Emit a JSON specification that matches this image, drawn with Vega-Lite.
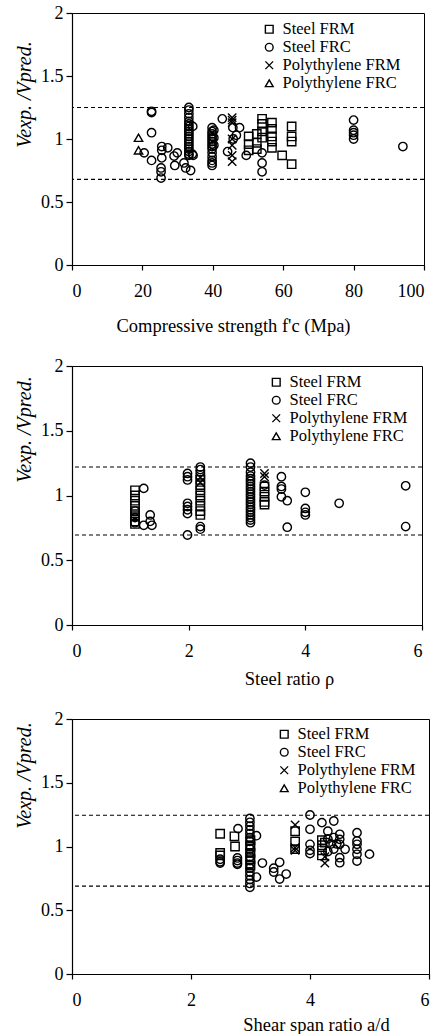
{
  "$schema": "https://vega.github.io/schema/vega-lite/v6.json",
  "background": "white",
  "padding": {"left": 14, "top": 3, "right": 5, "bottom": 0},
  "spacing": 21,
  "config": {
    "font": "Liberation Serif",
    "view": {"stroke": "black", "strokeWidth": 1},
    "axis": {
      "grid": false, "domainColor": "black", "tickColor": "black", "labelColor": "black", "titleColor": "black",
      "labelFont": "Liberation Serif", "titleFont": "Liberation Serif", "labelFontSize": 18, "titleFontSize": 18.5,
      "titleFontWeight": "normal", "domainWidth": 1.2, "tickWidth": 1.2
    },
    "axisX": {"tickSize": 5, "labelPadding": 12, "titleBaseline": "alphabetic"},
    "axisY": {"tickSize": 6, "labelPadding": 3, "titleFontStyle": "italic", "titleFontSize": 20, "titlePadding": 6},
    "legend": {
      "orient": "none", "labelFont": "Liberation Serif", "labelFontSize": 16.5, "labelColor": "black",
      "symbolSize": 60, "symbolStrokeColor": "black", "symbolStrokeWidth": 1.4, "symbolFillColor": "transparent",
      "labelOffset": 5, "rowPadding": 1, "padding": 0, "title": null
    }
  },
  "datasets": {
    "fc": [
      {"x":18.9,"y":1.01,"t":"PC"},{"x":18.9,"y":0.91,"t":"PC"},
      {"x":20.5,"y":0.89,"t":"SC"},{"x":22.6,"y":1.22,"t":"SC"},{"x":22.6,"y":1.21,"t":"SC"},{"x":22.6,"y":1.05,"t":"SC"},{"x":22.6,"y":0.83,"t":"SC"},
      {"x":25.5,"y":0.94,"t":"SC"},{"x":25.5,"y":0.91,"t":"SC"},{"x":25.5,"y":0.85,"t":"SC"},{"x":25.3,"y":0.77,"t":"SC"},{"x":25.3,"y":0.74,"t":"SC"},{"x":25.3,"y":0.69,"t":"SC"},
      {"x":27.2,"y":0.93,"t":"SC"},{"x":29,"y":0.865,"t":"SC"},{"x":29.2,"y":0.79,"t":"SC"},{"x":29.9,"y":0.89,"t":"SC"},
      {"x":31.8,"y":0.81,"t":"SC"},{"x":32.3,"y":0.77,"t":"SC"},{"x":33.7,"y":0.75,"t":"SC"},
      {"x":33.2,"y":1.25,"t":"SC"},{"x":33.2,"y":1.23,"t":"SC"},{"x":33.2,"y":1.2,"t":"SC"},{"x":33.2,"y":1.17,"t":"SC"},{"x":33.2,"y":1.14,"t":"SC"},{"x":33.2,"y":1.12,"t":"SC"},{"x":33.2,"y":1.1,"t":"SC"},{"x":33.2,"y":1.08,"t":"SC"},{"x":33.2,"y":1.06,"t":"SC"},{"x":33.2,"y":1.04,"t":"SC"},{"x":33.2,"y":1.02,"t":"SC"},{"x":33.2,"y":1.0,"t":"SC"},{"x":33.2,"y":0.98,"t":"SC"},{"x":33.2,"y":0.96,"t":"SC"},{"x":33.2,"y":0.94,"t":"SC"},{"x":33.2,"y":0.92,"t":"SC"},{"x":33.2,"y":0.9,"t":"SC"},{"x":33.2,"y":0.88,"t":"SC"},{"x":33.2,"y":0.87,"t":"SC"},
      {"x":34.3,"y":1.1,"t":"SC"},{"x":34.2,"y":0.88,"t":"SC"},{"x":34.4,"y":0.87,"t":"SC"},{"x":42.7,"y":1.16,"t":"SC"},
      {"x":39.8,"y":1.09,"t":"SC"},{"x":39.8,"y":1.06,"t":"SC"},{"x":39.8,"y":1.04,"t":"SC"},{"x":39.8,"y":1.02,"t":"SC"},{"x":39.8,"y":1.0,"t":"SC"},{"x":39.8,"y":0.98,"t":"SC"},{"x":39.8,"y":0.96,"t":"SC"},{"x":39.8,"y":0.94,"t":"SC"},{"x":39.8,"y":0.92,"t":"SC"},{"x":39.8,"y":0.89,"t":"SC"},{"x":39.8,"y":0.86,"t":"SC"},{"x":39.8,"y":0.83,"t":"SC"},{"x":39.8,"y":0.81,"t":"SC"},{"x":39.8,"y":0.79,"t":"SC"},
      {"x":40.3,"y":1.07,"t":"SC"},{"x":40.3,"y":1.01,"t":"SC"},{"x":40.3,"y":0.95,"t":"SC"},
      {"x":44.2,"y":0.9,"t":"SC"},{"x":45.7,"y":1.09,"t":"SC"},{"x":47.6,"y":1.09,"t":"SC"},{"x":46.7,"y":1.03,"t":"SC"},{"x":45.8,"y":1.0,"t":"SC"},
      {"x":49.5,"y":0.87,"t":"SC"},{"x":54,"y":0.89,"t":"SC"},{"x":54,"y":0.81,"t":"SC"},{"x":54,"y":0.74,"t":"SC"},
      {"x":80,"y":1.15,"t":"SC"},{"x":80,"y":1.07,"t":"SC"},{"x":80,"y":1.05,"t":"SC"},{"x":80,"y":1.03,"t":"SC"},{"x":80,"y":1.0,"t":"SC"},{"x":94,"y":0.94,"t":"SC"},
      {"x":45.5,"y":1.17,"t":"PM"},{"x":45.5,"y":1.15,"t":"PM"},{"x":45.5,"y":1.13,"t":"PM"},{"x":45.5,"y":1.0,"t":"PM"},{"x":45.5,"y":0.95,"t":"PM"},{"x":45.5,"y":0.87,"t":"PM"},{"x":45.5,"y":0.82,"t":"PM"},
      {"x":50.2,"y":1.02,"t":"SM"},{"x":50.2,"y":0.96,"t":"SM"},{"x":50.2,"y":0.91,"t":"SM"},{"x":52.5,"y":1.04,"t":"SM"},{"x":52.5,"y":0.97,"t":"SM"},{"x":52.5,"y":0.92,"t":"SM"},
      {"x":54,"y":1.16,"t":"SM"},{"x":54,"y":1.12,"t":"SM"},{"x":54,"y":1.06,"t":"SM"},{"x":54,"y":1.01,"t":"SM"},
      {"x":56.8,"y":1.13,"t":"SM"},{"x":56.8,"y":1.08,"t":"SM"},{"x":56.8,"y":1.02,"t":"SM"},{"x":56.8,"y":0.98,"t":"SM"},{"x":56.8,"y":0.93,"t":"SM"},
      {"x":59.7,"y":0.87,"t":"SM"},{"x":62.4,"y":1.1,"t":"SM"},{"x":62.4,"y":1.02,"t":"SM"},{"x":62.4,"y":0.98,"t":"SM"},{"x":62.4,"y":0.8,"t":"SM"}
    ],
    "rho": [
      {"x":1.08,"y":1.04,"t":"SM"},{"x":1.08,"y":1.0,"t":"SM"},{"x":1.08,"y":0.96,"t":"SM"},{"x":1.08,"y":0.92,"t":"SM"},{"x":1.08,"y":0.88,"t":"SM"},{"x":1.08,"y":0.84,"t":"SM"},{"x":1.08,"y":0.8,"t":"SM"},{"x":1.08,"y":0.78,"t":"SM"},
      {"x":2.2,"y":1.16,"t":"SM"},{"x":2.2,"y":1.12,"t":"SM"},{"x":2.2,"y":1.08,"t":"SM"},{"x":2.2,"y":1.04,"t":"SM"},{"x":2.2,"y":1.0,"t":"SM"},{"x":2.2,"y":0.96,"t":"SM"},{"x":2.2,"y":0.92,"t":"SM"},{"x":2.2,"y":0.88,"t":"SM"},{"x":2.2,"y":0.85,"t":"SM"},
      {"x":3.3,"y":1.07,"t":"SM"},{"x":3.3,"y":1.03,"t":"SM"},{"x":3.3,"y":0.99,"t":"SM"},{"x":3.3,"y":0.95,"t":"SM"},{"x":3.3,"y":0.93,"t":"SM"},
      {"x":1.23,"y":1.055,"t":"SC"},{"x":1.34,"y":0.85,"t":"SC"},{"x":1.34,"y":0.8,"t":"SC"},{"x":1.23,"y":0.77,"t":"SC"},{"x":1.37,"y":0.77,"t":"SC"},{"x":1.08,"y":0.88,"t":"SC"},{"x":1.08,"y":0.83,"t":"SC"},{"x":1.08,"y":0.79,"t":"SC"},
      {"x":1.98,"y":1.17,"t":"SC"},{"x":1.98,"y":1.145,"t":"SC"},{"x":1.98,"y":1.12,"t":"SC"},{"x":1.98,"y":0.94,"t":"SC"},{"x":1.98,"y":0.915,"t":"SC"},{"x":1.98,"y":0.89,"t":"SC"},{"x":1.98,"y":0.86,"t":"SC"},{"x":1.98,"y":0.695,"t":"SC"},
      {"x":2.2,"y":1.22,"t":"SC"},{"x":2.2,"y":1.2,"t":"SC"},{"x":2.2,"y":0.76,"t":"SC"},{"x":2.2,"y":0.74,"t":"SC"},
      {"x":3.06,"y":1.25,"t":"SC"},{"x":3.06,"y":1.22,"t":"SC"},{"x":3.06,"y":1.18,"t":"SC"},{"x":3.06,"y":1.15,"t":"SC"},{"x":3.06,"y":1.13,"t":"SC"},{"x":3.06,"y":1.11,"t":"SC"},{"x":3.06,"y":1.09,"t":"SC"},{"x":3.06,"y":1.07,"t":"SC"},{"x":3.06,"y":1.05,"t":"SC"},{"x":3.06,"y":1.03,"t":"SC"},{"x":3.06,"y":1.01,"t":"SC"},{"x":3.06,"y":0.99,"t":"SC"},{"x":3.06,"y":0.97,"t":"SC"},{"x":3.06,"y":0.95,"t":"SC"},{"x":3.06,"y":0.93,"t":"SC"},{"x":3.06,"y":0.91,"t":"SC"},{"x":3.06,"y":0.89,"t":"SC"},{"x":3.06,"y":0.87,"t":"SC"},{"x":3.06,"y":0.85,"t":"SC"},{"x":3.06,"y":0.83,"t":"SC"},{"x":3.06,"y":0.81,"t":"SC"},{"x":3.06,"y":0.79,"t":"SC"},
      {"x":3.3,"y":1.08,"t":"SC"},{"x":3.59,"y":1.145,"t":"SC"},{"x":3.59,"y":1.07,"t":"SC"},{"x":3.59,"y":1.05,"t":"SC"},{"x":3.59,"y":0.99,"t":"SC"},{"x":3.69,"y":0.96,"t":"SC"},{"x":3.69,"y":0.755,"t":"SC"},
      {"x":4.0,"y":1.025,"t":"SC"},{"x":4.0,"y":0.9,"t":"SC"},{"x":4.0,"y":0.87,"t":"SC"},{"x":4.0,"y":0.85,"t":"SC"},{"x":4.58,"y":0.94,"t":"SC"},{"x":5.72,"y":1.075,"t":"SC"},{"x":5.72,"y":0.76,"t":"SC"},
      {"x":2.2,"y":1.14,"t":"PM"},{"x":2.2,"y":1.1,"t":"PM"},{"x":3.3,"y":1.17,"t":"PM"},{"x":3.3,"y":1.145,"t":"PM"}
    ],
    "ad": [
      {"x":2.49,"y":1.1,"t":"SM"},{"x":2.49,"y":0.95,"t":"SM"},{"x":2.49,"y":0.93,"t":"SM"},{"x":2.73,"y":1.08,"t":"SM"},{"x":2.74,"y":1.0,"t":"SM"},
      {"x":3.0,"y":1.05,"t":"SM"},{"x":3.0,"y":1.0,"t":"SM"},{"x":3.0,"y":0.95,"t":"SM"},{"x":3.0,"y":0.9,"t":"SM"},{"x":3.0,"y":0.85,"t":"SM"},
      {"x":3.75,"y":1.12,"t":"SM"},{"x":3.75,"y":1.04,"t":"SM"},{"x":3.75,"y":0.98,"t":"SM"},
      {"x":4.2,"y":1.05,"t":"SM"},{"x":4.2,"y":1.01,"t":"SM"},{"x":4.2,"y":0.97,"t":"SM"},{"x":4.2,"y":0.93,"t":"SM"},{"x":4.25,"y":1.03,"t":"SM"},
      {"x":2.49,"y":0.9,"t":"SC"},{"x":2.49,"y":0.88,"t":"SC"},{"x":2.49,"y":0.87,"t":"SC"},{"x":2.79,"y":1.14,"t":"SC"},{"x":2.78,"y":0.91,"t":"SC"},{"x":2.78,"y":0.89,"t":"SC"},{"x":2.78,"y":0.87,"t":"SC"},{"x":2.78,"y":0.86,"t":"SC"},
      {"x":2.99,"y":1.22,"t":"SC"},{"x":2.99,"y":1.19,"t":"SC"},{"x":2.99,"y":1.16,"t":"SC"},{"x":2.99,"y":1.13,"t":"SC"},{"x":2.99,"y":1.1,"t":"SC"},{"x":2.99,"y":1.07,"t":"SC"},{"x":2.99,"y":1.04,"t":"SC"},{"x":2.99,"y":1.01,"t":"SC"},{"x":2.99,"y":0.98,"t":"SC"},{"x":2.99,"y":0.95,"t":"SC"},{"x":2.99,"y":0.92,"t":"SC"},{"x":2.99,"y":0.89,"t":"SC"},{"x":2.99,"y":0.86,"t":"SC"},{"x":2.99,"y":0.83,"t":"SC"},{"x":2.99,"y":0.8,"t":"SC"},{"x":2.99,"y":0.77,"t":"SC"},{"x":2.99,"y":0.74,"t":"SC"},{"x":2.99,"y":0.71,"t":"SC"},{"x":2.99,"y":0.68,"t":"SC"},
      {"x":3.1,"y":1.085,"t":"SC"},{"x":3.1,"y":0.76,"t":"SC"},{"x":3.2,"y":0.87,"t":"SC"},{"x":3.39,"y":0.83,"t":"SC"},{"x":3.39,"y":0.8,"t":"SC"},{"x":3.49,"y":0.876,"t":"SC"},{"x":3.49,"y":0.745,"t":"SC"},{"x":3.6,"y":0.784,"t":"SC"},
      {"x":4.0,"y":1.247,"t":"SC"},{"x":4.0,"y":1.135,"t":"SC"},{"x":4.0,"y":1.017,"t":"SC"},{"x":4.0,"y":0.97,"t":"SC"},{"x":4.0,"y":0.944,"t":"SC"},{"x":4.2,"y":1.187,"t":"SC"},{"x":4.4,"y":1.2,"t":"SC"},{"x":4.3,"y":1.12,"t":"SC"},
      {"x":4.3,"y":1.06,"t":"SC"},{"x":4.35,"y":1.02,"t":"SC"},{"x":4.4,"y":1.07,"t":"SC"},{"x":4.4,"y":0.98,"t":"SC"},{"x":4.45,"y":1.02,"t":"SC"},{"x":4.3,"y":0.96,"t":"SC"},
      {"x":4.5,"y":1.096,"t":"SC"},{"x":4.5,"y":1.056,"t":"SC"},{"x":4.5,"y":1.017,"t":"SC"},{"x":4.5,"y":0.912,"t":"SC"},{"x":4.5,"y":0.873,"t":"SC"},{"x":4.59,"y":0.978,"t":"SC"},
      {"x":4.79,"y":1.108,"t":"SC"},{"x":4.79,"y":1.043,"t":"SC"},{"x":4.79,"y":1.017,"t":"SC"},{"x":4.79,"y":0.978,"t":"SC"},{"x":4.79,"y":0.939,"t":"SC"},{"x":4.79,"y":0.886,"t":"SC"},{"x":5.0,"y":0.94,"t":"SC"},
      {"x":3.75,"y":1.17,"t":"PM"},{"x":3.75,"y":0.99,"t":"PM"},{"x":3.75,"y":0.97,"t":"PM"},{"x":4.25,"y":0.87,"t":"PM"},{"x":4.25,"y":0.92,"t":"PM"}
    ]
  },
  "vconcat": [
    {
      "width": 352, "height": 252,
      "encoding": {
        "y": {"field": "y", "type": "quantitative", "scale": {"domain": [0, 2], "nice": false},
          "axis": {"values": [0, 0.5, 1, 1.5, 2], "format": "~g", "title": "Vexp. /Vpred.", "titleY": 81}}
      },
      "layer": [
        {
          "data": {"values": [{"y": 1.25}, {"y": 0.68}]},
          "mark": {"type": "rule", "strokeDash": [4, 3], "color": "black", "strokeWidth": 1.2}
        },
        {
          "data": {"name": "fc"},
          "mark": {"type": "point", "filled": false, "color": "black", "strokeWidth": 1.4, "size": 70, "opacity": 1},
          "encoding": {
            "x": {"field": "x", "type": "quantitative", "scale": {"domain": [0, 100], "nice": false},
              "axis": {"values": [0, 20, 40, 60, 80, 100], "title": "Compressive strength  f'c (Mpa)", "titleX": 161, "titleY": 66}},
            "shape": {"field": "t", "type": "nominal",
              "scale": {"domain": ["SM", "SC", "PM", "PC"], "range": ["square", "circle", "M-1,-1L1,1M1,-1L-1,1", "triangle-up"]},
              "legend": {"orient": "none", "legendX": 189, "legendY": 8, "labelExpr": "{'SM':'Steel FRM','SC':'Steel FRC','PM':'Polythylene FRM','PC':'Polythylene FRC'}[datum.label]"}}
          }
        }
      ]
    },
    {
      "width": 350, "height": 259,
      "encoding": {
        "y": {"field": "y", "type": "quantitative", "scale": {"domain": [0, 2], "nice": false},
          "axis": {"values": [0, 0.5, 1, 1.5, 2], "format": "~g", "title": "Vexp. /Vpred.", "titleY": 63}}
      },
      "layer": [
        {
          "data": {"values": [{"y": 1.22}, {"y": 0.695}]},
          "mark": {"type": "rule", "strokeDash": [4, 3], "color": "black", "strokeWidth": 1.2}
        },
        {
          "data": {"name": "rho"},
          "mark": {"type": "point", "filled": false, "color": "black", "strokeWidth": 1.4, "size": 70, "opacity": 1},
          "encoding": {
            "x": {"field": "x", "type": "quantitative", "scale": {"domain": [0, 6], "nice": false},
              "axis": {"values": [0, 2, 4, 6], "title": "Steel ratio  ρ", "titleX": 217, "titleY": 59}},
            "shape": {"field": "t", "type": "nominal",
              "scale": {"domain": ["SM", "SC", "PM", "PC"], "range": ["square", "circle", "M-1,-1L1,1M1,-1L-1,1", "triangle-up"]},
              "legend": {"orient": "none", "legendX": 196, "legendY": 8, "labelExpr": "{'SM':'Steel FRM','SC':'Steel FRC','PM':'Polythylene FRM','PC':'Polythylene FRC'}[datum.label]"}}
          }
        }
      ]
    },
    {
      "width": 357, "height": 255,
      "encoding": {
        "y": {"field": "y", "type": "quantitative", "scale": {"domain": [0, 2], "nice": false},
          "axis": {"values": [0, 0.5, 1, 1.5, 2], "format": "~g", "title": "Vexp. /Vpred.", "titleY": 56}}
      },
      "layer": [
        {
          "data": {"values": [{"y": 1.245}, {"y": 0.69}]},
          "mark": {"type": "rule", "strokeDash": [4, 3], "color": "black", "strokeWidth": 1.2}
        },
        {
          "data": {"name": "ad"},
          "mark": {"type": "point", "filled": false, "color": "black", "strokeWidth": 1.4, "size": 70, "opacity": 1},
          "encoding": {
            "x": {"field": "x", "type": "quantitative", "scale": {"domain": [0, 6], "nice": false},
              "axis": {"values": [0, 2, 4, 6], "title": "Shear span ratio  a/d", "titleX": 244, "titleY": 56}},
            "shape": {"field": "t", "type": "nominal",
              "scale": {"domain": ["SM", "SC", "PM", "PC"], "range": ["square", "circle", "M-1,-1L1,1M1,-1L-1,1", "triangle-up"]},
              "legend": {"orient": "none", "legendX": 204, "legendY": 7, "labelExpr": "{'SM':'Steel FRM','SC':'Steel FRC','PM':'Polythylene FRM','PC':'Polythylene FRC'}[datum.label]"}}
          }
        }
      ]
    }
  ],
  "resolve": {"scale": {"shape": "independent"}, "legend": {"shape": "independent"}}
}
